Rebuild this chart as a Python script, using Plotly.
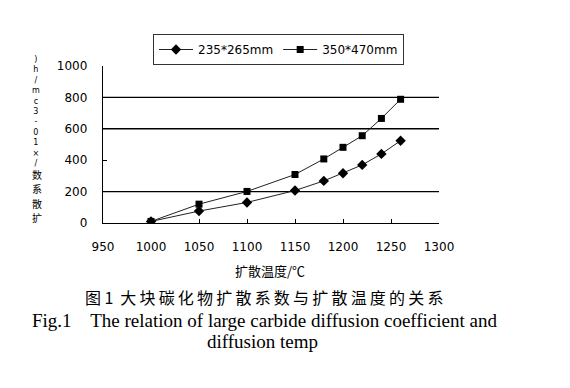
import plotly.graph_objects as go

temps = [1000, 1050, 1100, 1150, 1180, 1200, 1220, 1240, 1260]
small = [10, 76, 131, 207, 268, 317, 370, 440, 524]
large = [10, 120, 201, 309, 408, 482, 556, 666, 788]
names = ["235*265mm", "350*470mm"]
x_ticks = [950, 1000, 1050, 1100, 1150, 1200, 1250, 1300]
y_ticks = [0, 200, 400, 600, 800, 1000]
grid_vals = [200, 600, 800]
# vertical y-axis label, glyphs stacked top to bottom as in the reference
ylabel_latin = [")", "h", "/", "m", "c", "3", "-", "0", "1", "×", "/"]
ylabel_cjk = ["数", "系", "散", "扩"]
caption_cn = ["图\u00a01\u00a0", "大", "块", "碳", "化", "物", "扩", "散", "系", "数",
              "与", "扩", "散", "温", "度", "的", "关", "系"]

O = 8  # page body margin
W, H = 570 - O, 388 - O
L, R, T, B = 103 - O, 439 - O, 66 - O, 223 - O

def px(x):
    return (x - O - L) / (R - L)

def py(y):
    return (B - (y - O)) / (B - T)

fig = go.Figure()
fig.add_trace(go.Scatter(x=temps, y=small, name=names[0], mode="lines+markers",
                         line=dict(color="#222222", width=1),
                         marker=dict(symbol="diamond", size=8, color="black")))
fig.add_trace(go.Scatter(x=temps, y=large, name=names[1], mode="lines+markers",
                         line=dict(color="#222222", width=1),
                         marker=dict(symbol="square", size=7, color="black")))

for g in grid_vals:
    fig.add_shape(type="line", xref="paper", yref="y", x0=0, x1=1, y0=g, y1=g,
                  line=dict(color="black", width=1.4), layer="below")

font_tick = dict(family="DejaVu Sans", size=12, color="black")
fig.update_xaxes(range=[950, 1300], tickvals=x_ticks, ticks="inside", ticklen=4,
                 tickcolor="black", showline=True, linecolor="black", linewidth=1.4,
                 showgrid=False, zeroline=False, tickfont=font_tick, ticklabelstandoff=12)
fig.update_yaxes(range=[0, 1000], tickvals=y_ticks, ticks="inside", ticklen=4,
                 tickcolor="black", showline=True, linecolor="black", linewidth=1.4,
                 showgrid=False, zeroline=False, tickfont=font_tick, ticklabelstandoff=12)

def note(text, x, y, family, size, angle=0):
    return dict(text=text, x=px(x), y=py(y), xref="paper", yref="paper",
                xanchor="center", yanchor="middle", textangle=angle, showarrow=False,
                font=dict(family=family, size=size, color="black"))

ann = []
ann.append(note("扩散温度/℃", 270, 270, "Noto Sans CJK SC", 13))
ann.append(note("<br>".join(ylabel_latin), 36, 111, "DejaVu Sans", 8))
for i, ch in enumerate(ylabel_cjk):
    ann.append(note(ch, 37, 174 + 14.6 * i, "Noto Sans CJK SC", 10))
ann.append(note("\u2009".join(caption_cn), 264, 297, "Noto Sans CJK SC", 16))
ann.append(note("Fig.1    The relation of large carbide diffusion coefficient and",
                265, 320, "Liberation Serif", 19))
ann.append(note("diffusion temp", 262, 341, "Liberation Serif", 19))

fig.update_layout(
    width=W, height=H,
    margin=dict(l=L, r=W - R, t=T, b=H - B, pad=0),
    paper_bgcolor="white", plot_bgcolor="white",
    showlegend=True,
    legend=dict(orientation="h", x=px(153), y=py(34), xanchor="left", yanchor="top",
                bordercolor="#333333", borderwidth=1, bgcolor="white",
                font=dict(family="DejaVu Sans", size=12, color="black"),
                itemwidth=34, tracegroupgap=0),
    annotations=ann,
)

fig.write_html("out.html")
